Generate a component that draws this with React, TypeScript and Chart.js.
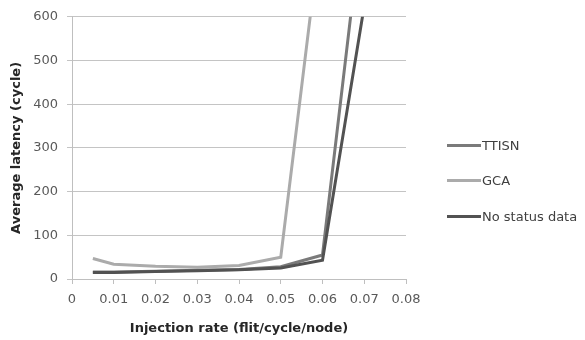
import React, { useEffect, useRef } from "react";
import { Chart, registerables } from "chart.js";

Chart.register(...registerables);

const injectionRates = [0.005, 0.01, 0.02, 0.03, 0.04, 0.05, 0.06, 0.07];
const ttisn = [16, 16, 18, 20, 22, 28, 55, 865];
const gca = [47, 34, 29, 27, 31, 50, 830];
const noStatus = [15, 15, 17, 19, 21, 25, 43, 625];
const xTicks = [0, 0.01, 0.02, 0.03, 0.04, 0.05, 0.06, 0.07, 0.08];
const seriesNames = ["TTISN", "GCA", "No status data"];
const seriesColors = ["#7a7a7a", "#ababab", "#525252"];

const FONT = "'DejaVu Sans', sans-serif";

function toPoints(values: number[]) {
  return values.map((v, i) => ({ x: injectionRates[i], y: v }));
}

export default function App() {
  const ref = useRef<HTMLCanvasElement | null>(null);

  useEffect(() => {
    document.body.style.margin = "0";
    const ctx = ref.current!;
    const seriesValues = [ttisn, gca, noStatus];
    const orders = [1, 2, 0];
    const chart = new Chart(ctx, {
      type: "line",
      data: {
        datasets: seriesNames.map((name, i) => ({
          label: name,
          data: toPoints(seriesValues[i]),
          borderColor: seriesColors[i],
          backgroundColor: seriesColors[i],
          borderWidth: 3,
          pointRadius: 0,
          tension: 0,
          fill: false,
          order: orders[i],
        })),
      },
      options: {
        animation: false,
        responsive: false,
        maintainAspectRatio: false,
        layout: { padding: { left: 0, top: 15, right: 179, bottom: 0 } },
        plugins: { legend: { display: false }, tooltip: { enabled: false } },
        scales: {
          x: {
            type: "linear",
            min: 0,
            max: 0.08,
            afterBuildTicks: (s: any) => {
              s.ticks = xTicks.map((v) => ({ value: v }));
            },
            afterFit: (s: any) => {
              s.height = 61;
            },
            ticks: {
              color: "#595959",
              font: { family: FONT, size: 13 },
              padding: 8,
              maxRotation: 0,
              autoSkip: false,
              callback: (v: any) => String(Number(v)),
            },
            grid: {
              display: true,
              drawOnChartArea: false,
              tickLength: 5,
              color: "#bfbfbf",
            },
            border: { color: "#bfbfbf" },
            title: {
              display: true,
              text: "Injection rate (flit/cycle/node)",
              color: "#262626",
              font: { family: FONT, size: 13, weight: "bold" },
              padding: { top: 0, bottom: 4 },
            },
          },
          y: {
            min: 0,
            max: 600,
            afterFit: (s: any) => {
              s.width = 72;
            },
            ticks: {
              stepSize: 100,
              color: "#595959",
              font: { family: FONT, size: 13 },
              padding: 9,
            },
            grid: {
              color: "#c4c4c4",
              tickLength: 5,
            },
            border: { color: "#bfbfbf" },
            title: {
              display: true,
              text: "Average latency (cycle)",
              color: "#262626",
              font: { family: FONT, size: 13, weight: "bold" },
              padding: { top: 9, bottom: 0 },
            },
          },
        },
      },
    });
    return () => chart.destroy();
  }, []);

  const legendY = [145, 180, 216];

  return (
    <div style={{ position: "relative", width: 585, height: 340, background: "#fff" }}>
      <canvas ref={ref} width={585} height={340} style={{ display: "block" }} />
      {seriesNames.map((name, i) => (
        <div
          key={name}
          style={{
            position: "absolute",
            left: 447,
            top: legendY[i] - 9,
            height: 18,
            display: "flex",
            alignItems: "center",
            fontFamily: FONT,
            fontSize: 13,
            color: "#404040",
            whiteSpace: "nowrap",
          }}
        >
          <span
            style={{
              display: "inline-block",
              width: 34,
              height: 3,
              background: seriesColors[i],
              marginRight: 1,
            }}
          />
          <span>{name}</span>
        </div>
      ))}
    </div>
  );
}
